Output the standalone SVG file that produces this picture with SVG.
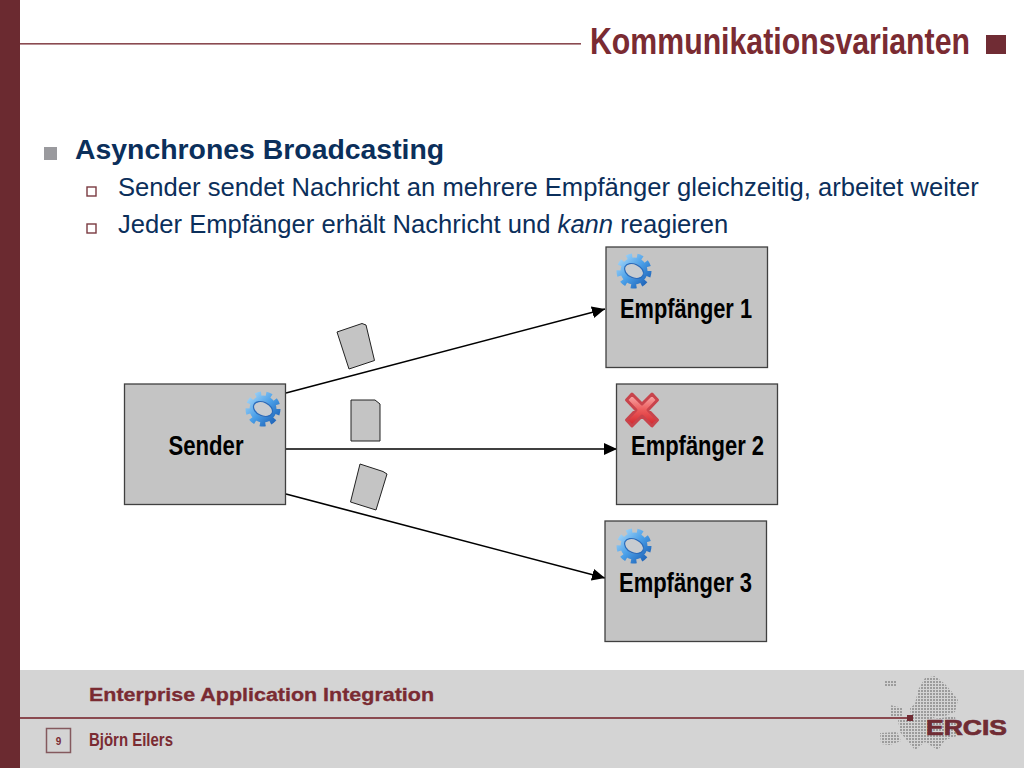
<svg xmlns="http://www.w3.org/2000/svg" xmlns:xlink="http://www.w3.org/1999/xlink" width="1024" height="768" viewBox="0 0 1024 768">
<style>
text{font-family:"Liberation Sans",Arial,sans-serif}
.box{fill:#c4c4c4;stroke:#404040;stroke-width:1.3}
.lbl{font-size:27px;font-weight:bold;fill:#000;text-anchor:middle}
.body{font-size:25.6px;fill:#0b2f5b}
.conn{stroke:#000;stroke-width:1.6;fill:none;marker-end:url(#arrow)}
.doc{fill:#c4c4c4;stroke:#222;stroke-width:1}
.bul{fill:#fff;stroke:#7a3a40;stroke-width:1.4}
</style>
<defs>
<marker id="arrow" markerUnits="userSpaceOnUse" markerWidth="14" markerHeight="12" refX="13" refY="6" orient="auto"><path d="M0,0L13,6L0,12Z" fill="#000"/></marker>
<linearGradient id="gearg" gradientUnits="userSpaceOnUse" x1="-14" y1="-14" x2="14" y2="14"><stop offset="0" stop-color="#a4d6f8"/><stop offset=".5" stop-color="#4a9fe8"/><stop offset="1" stop-color="#1c5fb4"/></linearGradient>
<linearGradient id="xg" x1="0" y1="0" x2="0" y2="1"><stop offset="0" stop-color="#f9b0b0"/><stop offset=".5" stop-color="#ec5a5a"/><stop offset="1" stop-color="#d0242c"/></linearGradient>
<g id="gear">
<circle r="14.8" fill="none" stroke="url(#gearg)" stroke-width="5.400" stroke-dasharray="5.500 4.830"/>
<circle r="10.500" fill="none" stroke="url(#gearg)" stroke-width="6"/>
<ellipse rx="10" ry="6.800" transform="rotate(25)" fill="#c8ccd0" stroke="#2a6cbc" stroke-width="1.200"/>
</g>
<pattern id="dots" width="3" height="3" patternUnits="userSpaceOnUse"><rect width="2" height="2" fill="#9c9c9c"/></pattern>
</defs>
<rect width="1024" height="768" fill="#fff"/>
<rect x="0" y="0" width="20" height="768" fill="#6b2a30"/>
<rect x="20" y="670" width="1004" height="98" fill="#d4d4d4"/>
<rect x="20" y="43" width="561" height="1.600" fill="#8a4a50"/>
<text transform="translate(590,54) scale(1,1.18)" x="0" y="0" font-size="31" font-weight="bold" fill="#7a2b32" textLength="380" lengthAdjust="spacingAndGlyphs">Kommunikationsvarianten</text>
<rect x="986" y="35" width="20" height="19" fill="#702c34"/>

<rect x="44" y="147" width="13" height="13" fill="#9a9a9e"/>
<text x="75" y="159" font-size="28.400" font-weight="bold" fill="#0b2f5b">Asynchrones Broadcasting</text>
<rect class="bul" x="87" y="187" width="9" height="9"/>
<text class="body" x="118" y="196">Sender sendet Nachricht an mehrere Empfänger gleichzeitig, arbeitet weiter</text>
<rect class="bul" x="87" y="224" width="9" height="9"/>
<text class="body" x="118" y="233">Jeder Empfänger erhält Nachricht und <tspan font-style="italic">kann</tspan> reagieren</text>

<g id="connectors">
<line class="conn" x1="286" y1="393" x2="605" y2="309"/>
<line class="conn" x1="286" y1="449" x2="617" y2="449"/>
<line class="conn" x1="286" y1="494" x2="605" y2="578"/>
</g>

<g id="messages">
<path class="doc" d="M337,332L362,323.500L366,325L374.500,360.500L349,369Z"/>
<path class="doc" d="M351,400L375,400L380,404L380,441L351,441Z"/>
<path class="doc" d="M360,464L383,471.500L387,474L376,510L350.500,502Z"/>
</g>

<g id="sender">
<rect class="box" x="124.500" y="384" width="161" height="120.500"/>
<text class="lbl" x="206" y="455" textLength="75" lengthAdjust="spacingAndGlyphs">Sender</text>
<use xlink:href="#gear" href="#gear" x="263" y="409"/>
</g>
<g id="empfaenger1">
<rect class="box" x="606" y="247" width="161.500" height="120.500"/>
<text class="lbl" x="686" y="318" textLength="132" lengthAdjust="spacingAndGlyphs">Empfänger 1</text>
<use xlink:href="#gear" href="#gear" x="634" y="271"/>
</g>
<g id="empfaenger2">
<rect class="box" x="616.500" y="384" width="161" height="120.500"/>
<text class="lbl" x="697.500" y="455" textLength="133" lengthAdjust="spacingAndGlyphs">Empfänger 2</text>
<path d="M632,394L642,404L652,394L657.500,400L648,410L657.500,420L652,426L642,416L632,426L626.500,420L636,410L626.500,400Z" fill="url(#xg)" stroke="#c8444c" stroke-width="3" stroke-linejoin="round"/>
</g>
<g id="empfaenger3">
<rect class="box" x="605" y="521" width="161.500" height="120.500"/>
<text class="lbl" x="685.500" y="592" textLength="133" lengthAdjust="spacingAndGlyphs">Empfänger 3</text>
<use xlink:href="#gear" href="#gear" x="634" y="546"/>
</g>

<g id="footer">
<g fill="url(#dots)">
<path d="M885,680h12v7h-12Z"/>
<path d="M890,705L903,708L902,719L890,718Z"/>
<path d="M925,678L935,676L945,684L952,692L958,700L955,712L945,716L935,717L926,722L912,722L910,708L915,704L918,690Z"/>
<path d="M898,720L925,720L955,716L957,736L945,740L938,750L925,742L915,750L905,738L900,732Z"/>
<path d="M880,733L897,732L901,741L890,745L881,744Z"/>
</g>
<text x="89" y="701" font-size="17.500" font-weight="bold" fill="#7a2b32" stroke="#7a2b32" stroke-width=".3" textLength="345" lengthAdjust="spacingAndGlyphs">Enterprise Application Integration</text>
<rect x="20" y="717" width="888" height="2" fill="#8a4a50"/>
<rect x="907" y="715" width="6" height="6" fill="#702c34"/>
<text x="926" y="735" font-size="22" font-weight="bold" fill="#702c34" stroke="#702c34" stroke-width=".7" textLength="81" lengthAdjust="spacingAndGlyphs">ERCIS</text>
<rect x="46.500" y="728.500" width="24" height="24" fill="none" stroke="#84595e" stroke-width="1.500"/>
<text x="58.500" y="745" font-size="10" font-weight="bold" fill="#7a2b32" text-anchor="middle">9</text>
<text x="89" y="746" font-size="18" font-weight="bold" fill="#7a2b32" textLength="84" lengthAdjust="spacingAndGlyphs">Björn Eilers</text>
</g>
</svg>
